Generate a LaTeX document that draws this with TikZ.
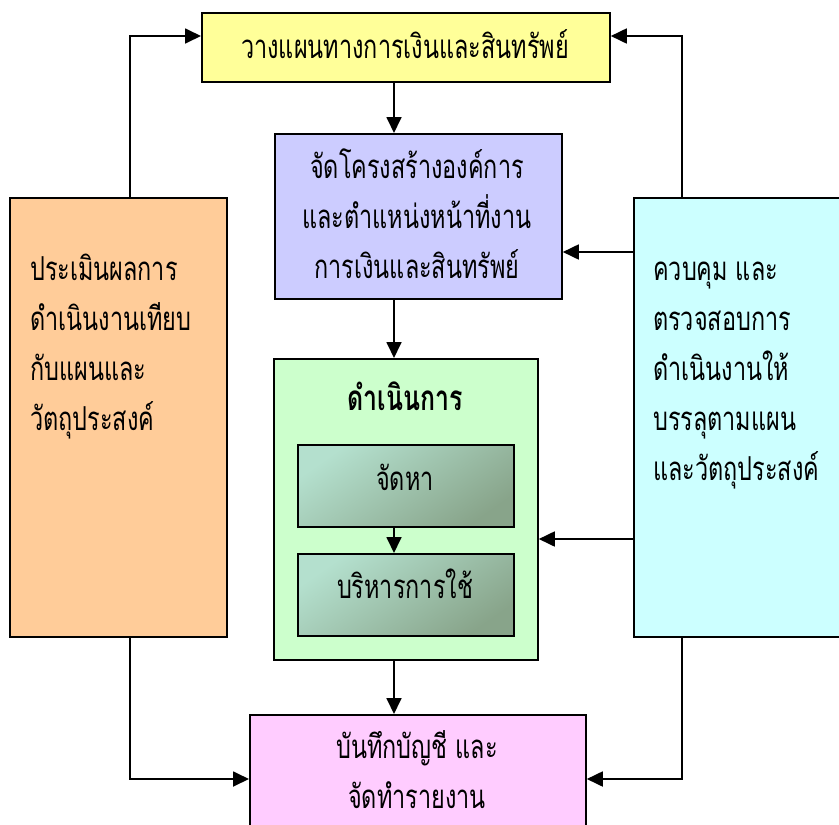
\documentclass[tikz,border=0pt]{standalone}
\usepackage{fontspec}
\newfontfamily\thaifont[Script=Thai,FakeStretch=0.71]{Loma}
\usetikzlibrary{arrows.meta}

\definecolor{planfill}{HTML}{FFFF99}
\definecolor{orgfill}{HTML}{CCCCFF}
\definecolor{opfill}{HTML}{CCFFCC}
\definecolor{evalfill}{HTML}{FFCC99}
\definecolor{ctrlfill}{HTML}{CCFFFF}
\definecolor{recfill}{HTML}{FFCCFF}
\definecolor{subtop}{HTML}{B4E0CE}
\definecolor{subbot}{HTML}{88A48A}

\tikzset{
  box/.style={draw=black, line width=1.8pt, inner sep=0pt, anchor=north west},
  subbox/.style={box, top color=subtop, bottom color=subbot, shading angle=35},
  boxtext/.style={font=\thaifont\fontsize{33}{50}\selectfont, inner sep=0pt},
  flow/.style={line width=1.8pt, -{Triangle[length=16pt,width=15pt]}},
}

\begin{document}
\begin{tikzpicture}[x=1pt,y=-1pt]
\useasboundingbox (0,0) rectangle (839,825);

% boxes
\node[box, fill=planfill, minimum width=408pt, minimum height=69pt] (plan) at (201,12) {};
\node[box, fill=orgfill, minimum width=287pt, minimum height=165pt] (org) at (274,133) {};
\node[box, fill=opfill, minimum width=264pt, minimum height=301pt] (op) at (273,358) {};
\node[subbox, minimum width=216pt, minimum height=82pt] (get) at (297,444) {};
\node[subbox, minimum width=216pt, minimum height=82pt] (use) at (297,553) {};
\node[box, fill=evalfill, minimum width=217pt, minimum height=439pt] (eval) at (9,197) {};
\node[box, fill=ctrlfill, minimum width=230pt, minimum height=439pt] (ctrl) at (633,197) {};
\node[box, fill=recfill, minimum width=336pt, minimum height=130pt] (rec) at (249,714) {};

% texts (multi-line nodes are placed by the baseline of their last line)
\node[boxtext, anchor=base] (plantxt) at (405,58) {วางแผนทางการเงินและสินทรัพย์};
\node[boxtext, align=center, anchor=base] (orgtxt) at (417,278)
  {จัดโครงสร้างองค์การ\\และตำแหน่งหน้าที่งาน\\การเงินและสินทรัพย์};
\node[boxtext, font=\thaifont\bfseries\fontsize{35}{50}\selectfont, anchor=base] (optxt) at (405,410) {ดำเนินการ};
\node[boxtext, anchor=base] (gettxt) at (405,490) {จัดหา};
\node[boxtext, anchor=base] (usetxt) at (405,598) {บริหารการใช้};
\node[boxtext, align=left, anchor=base west] (evaltxt) at (30,430)
  {ประเมินผลการ\\ดำเนินงานเทียบ\\กับแผนและ\\วัตถุประสงค์};
\node[boxtext, align=left, anchor=base west] (ctrltxt) at (653,480)
  {ควบคุม และ\\ตรวจสอบการ\\ดำเนินงานให้\\บรรลุตามแผน\\และวัตถุประสงค์};
\node[boxtext, align=center, anchor=base] (rectxt) at (417,808)
  {บันทึกบัญชี และ\\จัดทำรายงาน};

% routing guides
\coordinate (spine) at (394,0);
\coordinate (lx) at (130,0);
\coordinate (rx) at (682,0);
\coordinate (ty) at (0,36);
\coordinate (by) at (0,779);
\coordinate (y1) at (0,252);
\coordinate (y2) at (0,539);

% main flow
\draw[flow] (plan.south -| spine) -- (org.north -| spine);
\draw[flow] (org.south -| spine) -- (op.north -| spine);
\draw[flow] (get.south -| spine) -- (use.north -| spine);
\draw[flow] (op.south -| spine) -- (rec.north -| spine);

% feedback loops
\draw[flow] (eval.north -| lx) |- (plan.west |- ty);
\draw[flow] (eval.south -| lx) |- (rec.west |- by);
\draw[flow] (ctrl.north -| rx) |- (plan.east |- ty);
\draw[flow] (ctrl.south -| rx) |- (rec.east |- by);
\draw[flow] (ctrl.west |- y1) -- (org.east |- y1);
\draw[flow] (ctrl.west |- y2) -- (op.east |- y2);
\end{tikzpicture}
\end{document}
